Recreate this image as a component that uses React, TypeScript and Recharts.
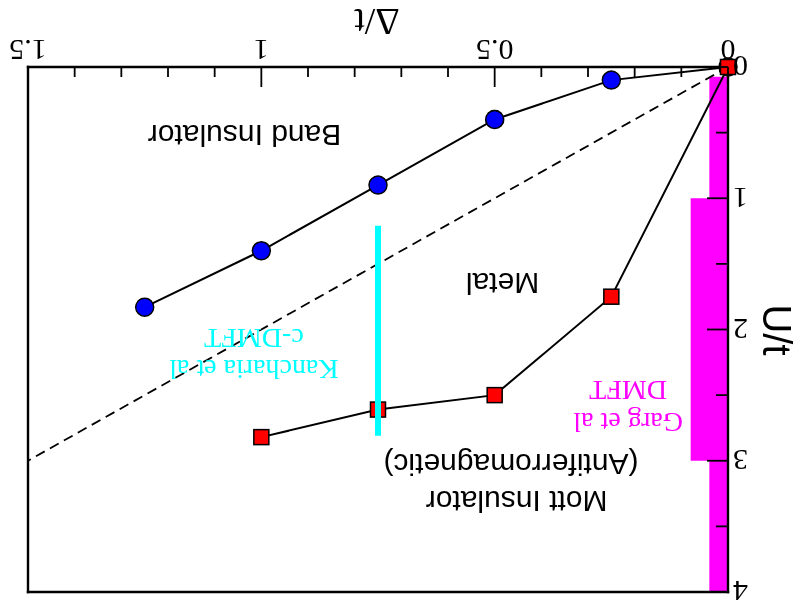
import React from 'react';
import { ScatterChart, Scatter, XAxis, YAxis, ReferenceArea, ReferenceDot } from 'recharts';

// Phase boundaries of the ionic Hubbard model, U/t against Δ/t
const bandDelta = [0, 0.25, 0.5, 0.75, 1.0, 1.25];
const bandU = [0, 0.1, 0.4, 0.9, 1.4, 1.83];

const mottDelta = [0, 0.25, 0.5, 0.75, 1.0];
const mottU = [0, 1.75, 2.5, 2.61, 2.82];

// U = 2Δ guide line
const guideDelta = [0, 1.5];
const guideU = [0, 3];

// cluster DMFT metallic window at Δ = 0.75
const kanchariaDelta = [0.75, 0.75];
const kanchariaU = [1.21, 2.81];

// single-site DMFT ranges near Δ = 0
const gargDeltaMax = [0.04, 0.08];
const gargUMin = [0.075, 1];
const gargUMax = [4, 3];

const deltaMajor = [0, 0.5, 1, 1.5];
const deltaTicks = [0, 0.1, 0.2, 0.3, 0.4, 0.5, 0.6, 0.7, 0.8, 0.9, 1, 1.1, 1.2, 1.3, 1.4, 1.5];
const uMajor = [0, 1, 2, 3, 4];
const uTicks = [0, 0.5, 1, 1.5, 2, 2.5, 3, 3.5, 4];

const toPoints = (xs: number[], ys: number[]) => xs.map((d, i) => ({ d, u: ys[i] }));

const bandData = toPoints(bandDelta, bandU);
const mottData = toPoints(mottDelta, mottU);
const guideData = toPoints(guideDelta, guideU);
const kanchariaData = toPoints(kanchariaDelta, kanchariaU);

const SANS = '"Liberation Sans", Arial, sans-serif';
const SERIF = '"Liberation Serif", "Times New Roman", serif';

const regionLabels = [
  { d: 1.036, u: 0.52, text: 'Band Insulator', color: '#000', font: SANS, size: 30 },
  { d: 0.483, u: 1.65, text: 'Metal', color: '#000', font: SANS, size: 30 },
  { d: 0.453, u: 3.31, text: 'Mott Insulator', color: '#000', font: SANS, size: 30 },
  { d: 0.465, u: 3.03, text: '(Antiferromagnetic)', color: '#000', font: SANS, size: 30 },
  { d: 1.016, u: 2.31, text: 'Kancharia et al', color: '#00ffff', font: SERIF, size: 28 },
  { d: 1.016, u: 2.07, text: 'c-DMFT', color: '#00ffff', font: SERIF, size: 28 },
  { d: 0.214, u: 2.71, text: 'Garg et al', color: '#ff00ff', font: SERIF, size: 28 },
  { d: 0.214, u: 2.47, text: 'DMFT', color: '#ff00ff', font: SERIF, size: 28 },
];

const frame = { stroke: '#000', strokeWidth: 2.4, strokeLinecap: 'square' as const };
const TICK_W = 1.8;

const BottomTick = (props: any) => {
  const { x, y, payload } = props;
  const major = deltaMajor.includes(payload.value);
  return (
    <g>
      <line x1={x} y1={y} x2={x} y2={y - (major ? 20 : 10)} stroke="#000" strokeWidth={TICK_W} />
      {major && (
        <text x={x} y={y + 27} textAnchor="middle" fontFamily={SERIF} fontSize={30} fill="#000">
          {String(payload.value)}
        </text>
      )}
    </g>
  );
};

const TopTick = (props: any) => {
  const { x, y, payload } = props;
  const major = deltaMajor.includes(payload.value);
  return <line x1={x} y1={y} x2={x} y2={y + (major ? 20 : 10)} stroke="#000" strokeWidth={TICK_W} />;
};

const LeftTick = (props: any) => {
  const { x, y, payload } = props;
  const major = uMajor.includes(payload.value);
  return (
    <g>
      <line x1={x} y1={y} x2={x + (major ? 21 : 12)} y2={y} stroke="#000" strokeWidth={TICK_W} />
      {major && (
        <text x={x - 5} y={y} dy="0.35em" textAnchor="end" fontFamily={SERIF} fontSize={30} fill="#000">
          {String(payload.value)}
        </text>
      )}
    </g>
  );
};

const RightTick = (props: any) => {
  const { x, y, payload } = props;
  const major = uMajor.includes(payload.value);
  return <line x1={x} y1={y} x2={x - (major ? 21 : 12)} y2={y} stroke="#000" strokeWidth={TICK_W} />;
};

const Circle = (props: any) => (
  <circle cx={props.cx} cy={props.cy} r={9} fill="#0000ff" stroke="#000" strokeWidth={1.5} />
);

const Square = (props: any) => (
  <rect x={props.cx - 7.5} y={props.cy - 7.5} width={15} height={15} fill="#ff0000" stroke="#000" strokeWidth={1.5} />
);

const NoMark = () => <g />;

export default function App() {
  return (
    <div
      style={{
        position: 'fixed',
        left: 0,
        top: 0,
        width: 798,
        height: 611,
        background: '#fff',
        transform: 'rotate(180deg)',
      }}
    >
      <ScatterChart width={798} height={611} margin={{ top: 18, right: 27, bottom: 66, left: 69 }}>
        {gargDeltaMax.map((dm, i) => (
          <ReferenceArea
            key={`garg-${i}`}
            x1={0}
            x2={dm}
            y1={gargUMin[i]}
            y2={gargUMax[i]}
            fill="#ff00ff"
            fillOpacity={1}
            stroke="none"
          />
        ))}

        <XAxis
          type="number"
          dataKey="d"
          domain={[0, 1.5]}
          ticks={deltaTicks}
          interval={0}
          height={1}
          tickSize={0}
          tickMargin={0}
          tickLine={false}
          axisLine={frame}
          tick={<BottomTick />}
        />
        <XAxis
          xAxisId="top"
          orientation="top"
          type="number"
          domain={[0, 1.5]}
          ticks={deltaTicks}
          interval={0}
          height={1}
          tickSize={0}
          tickMargin={0}
          tickLine={false}
          axisLine={frame}
          tick={<TopTick />}
        />
        <YAxis
          type="number"
          dataKey="u"
          domain={[0, 4]}
          ticks={uTicks}
          interval={0}
          width={1}
          tickSize={0}
          tickMargin={0}
          tickLine={false}
          axisLine={frame}
          tick={<LeftTick />}
        />
        <YAxis
          yAxisId="right"
          orientation="right"
          type="number"
          domain={[0, 4]}
          ticks={uTicks}
          interval={0}
          width={1}
          tickSize={0}
          tickMargin={0}
          tickLine={false}
          axisLine={frame}
          tick={<RightTick />}
        />

        <Scatter
          data={guideData}
          line={{ stroke: '#000', strokeWidth: 1.8, strokeDasharray: '10 6' }}
          shape={<NoMark />}
          isAnimationActive={false}
        />
        <Scatter
          data={bandData}
          line={{ stroke: '#000', strokeWidth: 2 }}
          shape={<Circle />}
          isAnimationActive={false}
        />
        <Scatter
          data={mottData}
          line={{ stroke: '#000', strokeWidth: 2 }}
          shape={<Square />}
          isAnimationActive={false}
        />
        <Scatter
          data={kanchariaData}
          line={{ stroke: '#00ffff', strokeWidth: 6 }}
          shape={<NoMark />}
          isAnimationActive={false}
        />

        {regionLabels.map((l) => (
          <ReferenceDot
            key={l.text}
            x={l.d}
            y={l.u}
            r={0}
            shape={(p: any) => (
              <text
                x={p.cx}
                y={p.cy}
                dy="0.35em"
                textAnchor="middle"
                fontFamily={l.font}
                fontSize={l.size}
                fill={l.color}
              >
                {l.text}
              </text>
            )}
          />
        ))}

        <text x={421} y={602} textAnchor="middle" fontFamily={SERIF} fontSize={38} fill="#000">
          Δ/t
        </text>
        <text
          x={35}
          y={281}
          textAnchor="middle"
          fontFamily={SANS}
          fontSize={40}
          fill="#000"
          transform="rotate(-90, 35, 281)"
        >
          U/t
        </text>
      </ScatterChart>
    </div>
  );
}
